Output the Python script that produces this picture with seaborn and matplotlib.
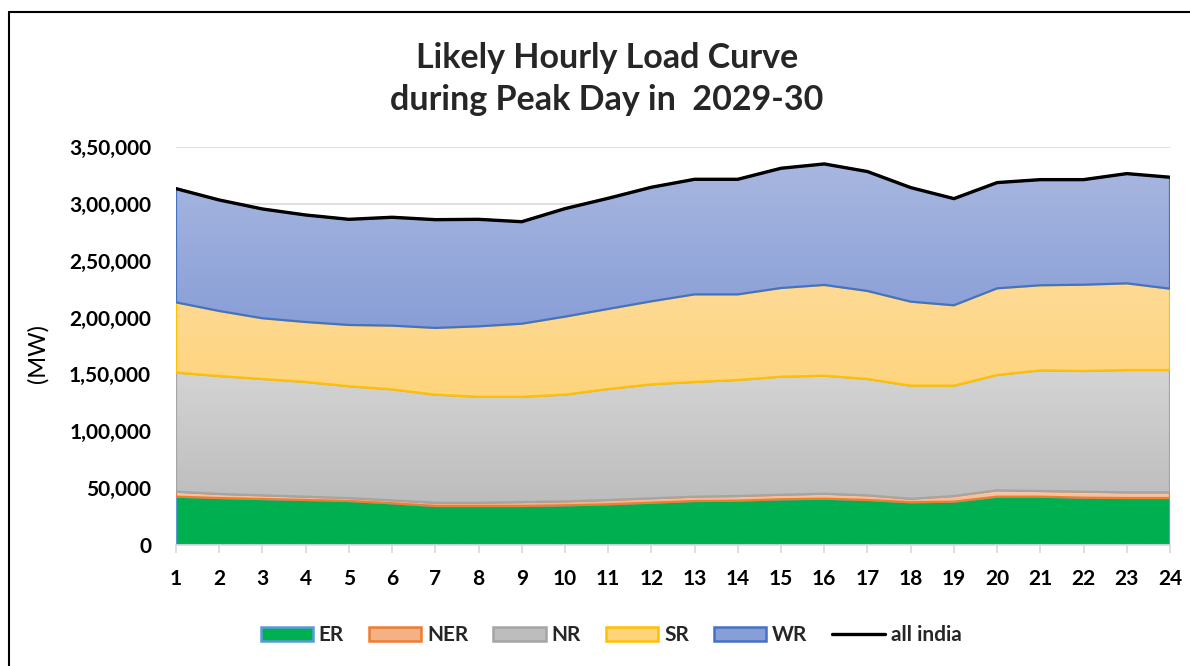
"""Likely hourly load curve during peak day, 2029-30 (stacked regional areas)."""

import numpy as np
import pandas as pd
import matplotlib
matplotlib.use("Agg")
import matplotlib.pyplot as plt
import seaborn as sns
from matplotlib.colors import LinearSegmentedColormap
from matplotlib.patches import Patch, PathPatch
from matplotlib.lines import Line2D
from matplotlib.ticker import FuncFormatter, MultipleLocator

sns.set_theme(style="white")
plt.rcParams['font.family'] = ['Lato', 'DejaVu Sans']

# --- data (MW) ---
hours = list(range(1, 25))
er = [42500, 41300, 40400, 39600, 38700, 36700, 34300, 34300, 34300, 34900, 35800, 37200,
      38700, 39000, 40200, 40700, 39600, 37600, 38100, 42500, 42500, 41600, 41300, 41300]
ner = [4400, 3600, 3300, 2900, 2600, 2600, 2900, 2900, 3500, 3500, 3800, 3900,
       3800, 4100, 4000, 4400, 4100, 3100, 5000, 5600, 5000, 5300, 5000, 5000]
nr = [104700, 103700, 102300, 100900, 98300, 97600, 95000, 93200, 92600, 93800, 97600, 100200,
      100900, 102000, 103800, 103800, 102300, 99400, 97000, 101400, 106100, 106100, 107600, 107600]
sr = [61800, 57200, 53400, 52700, 53900, 56000, 58700, 61900, 64200, 68600, 70400, 73000,
      77000, 75300, 78000, 79800, 77400, 73900, 70700, 76200, 74800, 75900, 76200, 71500]
wr = [100000, 97600, 96100, 94100, 92900, 95300, 95200, 94100, 89700, 95000, 97300, 100300,
      101200, 101200, 105300, 106400, 105000, 100300, 93800, 93000, 92900, 92400, 96500, 98000]

regions = ['ER', 'NER', 'NR', 'SR', 'WR']
df = pd.DataFrame({'hour': hours, 'ER': er, 'NER': ner, 'NR': nr, 'SR': sr, 'WR': wr})
df['all india'] = df[regions].sum(axis=1)

# fill (top, bottom) gradient colours and outline colour per region
styles = {
    'ER': ('#00B050', '#00B050', '#5B9BD5'),
    'NER': ('#F8CBAD', '#F4B183', '#ED7D31'),
    'NR': ('#D4D4D4', '#BDBDBD', '#A5A5A5'),
    'SR': ('#FDDA96', '#FFD47C', '#FFC000'),
    'WR': ('#A8B7E0', '#889ED7', '#4472C4'),
}


def indian_fmt(v, _):
    v = int(round(v))
    if v == 0:
        return '0'
    s = str(v)
    last3, rest = s[-3:], s[:-3]
    groups = []
    while len(rest) > 2:
        groups.insert(0, rest[-2:])
        rest = rest[:-2]
    if rest:
        groups.insert(0, rest)
    return ','.join(groups + [last3])


fig = plt.figure(figsize=(11.9, 6.66), dpi=100)
ax = fig.add_axes([176 / 1190, 1 - 545 / 666, 994 / 1190, 398 / 666])

x = np.array(df['hour'], dtype=float)
base = np.zeros(len(x))
for i, reg in enumerate(regions):
    top_c, bot_c, edge_c = styles[reg]
    top = base + df[reg].to_numpy()
    poly = ax.fill_between(x, base, top, facecolor='none', edgecolor=edge_c,
                           linewidth=1.6, zorder=2 + i * 2 + 1)
    path = poly.get_paths()[0]
    cmap = LinearSegmentedColormap.from_list(reg, [bot_c, top_c])
    grad = np.linspace(0, 1, 256).reshape(-1, 1)
    im = ax.imshow(grad, extent=[x[0], x[-1], base.min(), top.max()], origin='lower',
                   aspect='auto', cmap=cmap, zorder=2 + i * 2, interpolation='bilinear')
    clip = PathPatch(path, transform=ax.transData, facecolor='none', edgecolor='none')
    ax.add_patch(clip)
    im.set_clip_path(clip)
    base = top

sns.lineplot(data=df, x='hour', y='all india', color='black', linewidth=2.4, ax=ax, zorder=20)

ax.set_xlim(1, 24)
ax.set_ylim(0, 350000)
ax.xaxis.set_major_locator(MultipleLocator(1))
ax.yaxis.set_major_locator(MultipleLocator(50000))
ax.yaxis.set_major_formatter(FuncFormatter(indian_fmt))
ax.grid(axis='y', color='#D9D9D9', linewidth=1.2, zorder=0)
ax.set_axisbelow(True)
for side in ['left', 'right', 'top']:
    ax.spines[side].set_visible(False)
ax.spines['bottom'].set_color('#D9D9D9')
ax.spines['bottom'].set_linewidth(1.2)
ax.spines['bottom'].set_zorder(30)
ax.tick_params(axis='x', bottom=True, length=6, width=1.2, color='#D9D9D9', pad=11)
ax.tick_params(axis='y', left=False, pad=12)
for lab in ax.get_xticklabels() + ax.get_yticklabels():
    lab.set_fontweight('bold')
    lab.set_fontsize(15)
    lab.set_color('black')

ax.set_xlabel('')
ax.set_ylabel('(MW)', fontsize=17, color='black')
ax.yaxis.set_label_coords(-0.128, 0.482)

fig.text(607 / 1190, 1 - 79 / 666, 'Likely Hourly Load Curve\nduring Peak Day in  2029-30',
         ha='center', va='center', fontsize=24.5, fontweight='bold', linespacing=1.42)

handles = [Patch(facecolor=styles[r][1], edgecolor=styles[r][2], linewidth=1.8) for r in regions]
handles.append(Line2D([0], [0], color='black', linewidth=2.4))
fig.legend(handles, regions + ['all india'], loc='center', bbox_to_anchor=(611 / 1190, 1 - 635 / 666),
           ncol=6, frameon=False, handlelength=2.5, handleheight=0.67, handletextpad=0.29,
           columnspacing=1.2, prop={'weight': 'bold', 'size': 15})

# outer chart border (only left and top edges fall inside the picture)
fig.add_artist(Line2D([9 / 1190, 9 / 1190], [0, 1 - 12 / 666], color='black', linewidth=1.5))
fig.add_artist(Line2D([9 / 1190, 1], [1 - 12 / 666, 1 - 12 / 666], color='black', linewidth=1.5))

fig.savefig('out.png', dpi=100)
